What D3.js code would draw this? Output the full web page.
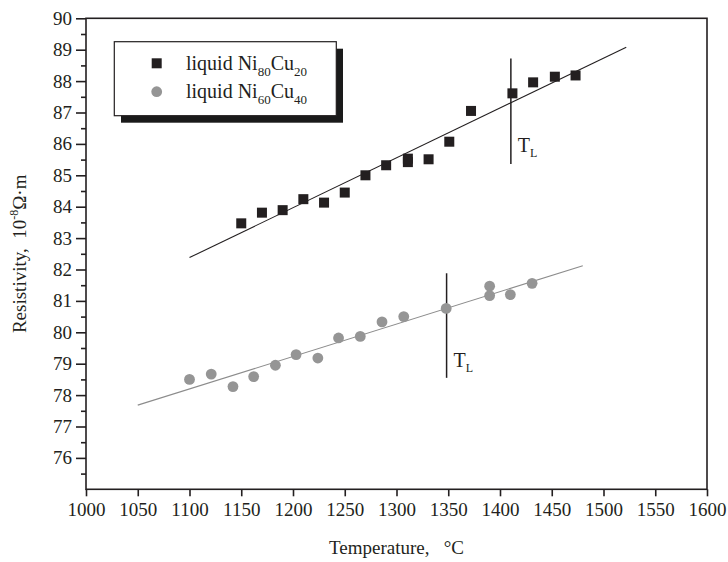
<!DOCTYPE html>
<html><head><meta charset="utf-8">
<script src="https://cdn.jsdelivr.net/npm/d3@7"></script>
<style>body{margin:0;background:#fff}svg{display:block;font-family:"Liberation Serif","Times New Roman",serif}text{white-space:pre}</style>
</head><body>
<svg id="c" width="728" height="562"></svg>
<script>
// ---- data ----
const niCu20T = [1150,1170,1190,1210,1230,1250,1270,1290,1311,1311,1331,1351,1372,1412,1432,1453,1473];
const niCu20R = [83.47,83.81,83.89,84.24,84.13,84.45,85.00,85.32,85.42,85.53,85.51,86.07,87.05,87.61,87.96,88.14,88.18];
const niCu40T = [1100,1121,1142,1162,1183,1203,1224,1244,1265,1286,1307,1348,1390,1390,1410,1431];
const niCu40R = [78.50,78.67,78.27,78.59,78.95,79.29,79.18,79.82,79.87,80.33,80.50,80.76,81.47,81.17,81.20,81.56];
const fit20 = [[1100,82.38],[1522,89.08]];
const fit40 = [[1050,77.68],[1480,82.12]];
const tl20 = [[1410.5,85.36],[1410.5,88.72]];
const tl40 = [[1348.4,78.55],[1348.4,81.88]];
const xTicks = [1000,1050,1100,1150,1200,1250,1300,1350,1400,1450,1500,1550,1600];
const yTicks = [76,77,78,79,80,81,82,83,84,85,86,87,88,89,90];
const yMinor = [75.5,76.5,77.5,78.5,79.5,80.5,81.5,82.5,83.5,84.5,85.5,86.5,87.5,88.5,89.5];

const svg = d3.select("#c");
const L=86, R=707, T=18.3, B=489.3;
const x = d3.scaleLinear().domain([1000,1600]).range([L,R]);
const y = d3.scaleLinear().domain([75,90]).range([B,T]);
const dark="#231f20", grey="#959595";
const FS=19;

// frame
svg.append("rect").attr("x",L).attr("y",T).attr("width",R-L).attr("height",B-T)
  .attr("fill","none").attr("stroke",dark).attr("stroke-width",1.6);

// x axis
const gx = svg.append("g").attr("transform",`translate(0,${B})`)
  .call(d3.axisBottom(x).tickValues(xTicks).tickSize(7).tickPadding(6).tickFormat(d3.format("d")));
gx.select(".domain").remove();
gx.selectAll("line").attr("stroke",dark).attr("stroke-width",1.6);
gx.selectAll("text").attr("font-size",FS).attr("fill",dark).attr("font-family","Liberation Serif");

// y axis
const gy = svg.append("g").attr("transform",`translate(${L},0)`)
  .call(d3.axisLeft(y).tickValues(yTicks).tickSize(10).tickPadding(4).tickFormat(d3.format("d")));
gy.select(".domain").remove();
gy.selectAll("line").attr("stroke",dark).attr("stroke-width",1.6);
gy.selectAll("text").attr("font-size",FS).attr("fill",dark).attr("font-family","Liberation Serif");
const gym = svg.append("g").attr("transform",`translate(${L},0)`)
  .call(d3.axisLeft(y).tickValues(yMinor).tickSize(5).tickFormat(""));
gym.select(".domain").remove();
gym.selectAll("line").attr("stroke",dark).attr("stroke-width",1.6);

// axis titles
svg.append("text").attr("x",(L+R)/2).attr("y",554).attr("text-anchor","middle")
  .attr("font-size",FS).attr("fill",dark).text("Temperature,   \u00B0C");
const yt = svg.append("text").attr("transform",`translate(26,${(T+B)/2}) rotate(-90)`)
  .attr("text-anchor","middle").attr("font-size",FS).attr("fill",dark);
yt.append("tspan").text("Resistivity,  10");
yt.append("tspan").attr("dy",-8).attr("font-size",12).text("-8");
yt.append("tspan").attr("dy",8).text("\u03A9\u00B7m");

// fit lines & TL lines
const line = d3.line().x(d=>x(d[0])).y(d=>y(d[1]));
svg.append("path").attr("d",line(fit20)).attr("stroke",dark).attr("stroke-width",1.1).attr("fill","none");
svg.append("path").attr("d",line(fit40)).attr("stroke","#8c8c8c").attr("stroke-width",1.1).attr("fill","none");
svg.append("path").attr("d",line(tl20)).attr("stroke",dark).attr("stroke-width",1.5).attr("fill","none");
svg.append("path").attr("d",line(tl40)).attr("stroke",dark).attr("stroke-width",1.5).attr("fill","none");

// TL labels
function tl(xv, yv){
  const t = svg.append("text").attr("x",x(xv)+7).attr("y",y(yv)).attr("font-size",20).attr("fill",dark);
  t.append("tspan").text("T");
  t.append("tspan").attr("dy",5).attr("font-size",12).text("L");
}
tl(1410.5, 85.75);
tl(1348.4, 78.9);

// points
const s=10;
svg.append("g").selectAll("rect").data(niCu20T.map((t,i)=>[t,niCu20R[i]])).join("rect")
  .attr("x",d=>x(d[0])-s/2).attr("y",d=>y(d[1])-s/2).attr("width",s).attr("height",s).attr("fill",dark);
svg.append("g").selectAll("circle").data(niCu40T.map((t,i)=>[t,niCu40R[i]])).join("circle")
  .attr("cx",d=>x(d[0])).attr("cy",d=>y(d[1])).attr("r",5.4).attr("fill",grey);

// legend
const lg = svg.append("g");
lg.append("rect").attr("x",121).attr("y",48.7).attr("width",222).attr("height",74).attr("fill","#1a1a1a");
lg.append("rect").attr("x",114.3).attr("y",41.7).attr("width",222).attr("height",74).attr("fill","#fff").attr("stroke",dark).attr("stroke-width",1.2);
lg.append("rect").attr("x",156.7-s/2).attr("y",63.3-s/2).attr("width",s).attr("height",s).attr("fill",dark);
lg.append("circle").attr("cx",156.7).attr("cy",91.7).attr("r",5.4).attr("fill",grey);
function legText(yb, a, b){
  const t = lg.append("text").attr("x",186).attr("y",yb).attr("font-size",20).attr("fill",dark);
  t.append("tspan").text("liquid Ni");
  t.append("tspan").attr("dy",6).attr("font-size",13).text(a);
  t.append("tspan").attr("dy",-6).text("Cu");
  t.append("tspan").attr("dy",6).attr("font-size",13).text(b);
}
legText(69.5,"80","20");
legText(98,"60","40");
</script>
</body></html>
